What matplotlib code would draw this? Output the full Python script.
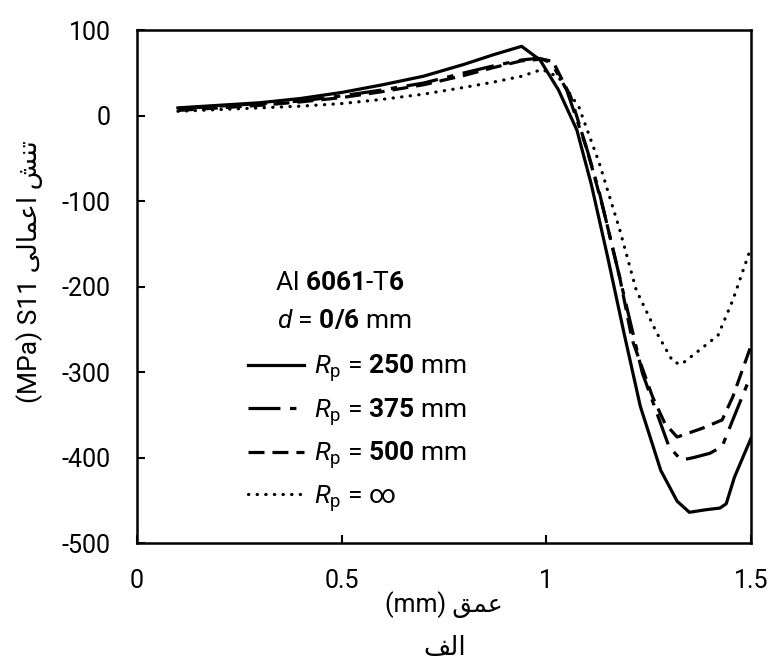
import matplotlib
matplotlib.use("Agg")
import matplotlib.pyplot as plt

# depth (mm) / stress S11 (MPa)
x_250 = [0.10, 0.20, 0.30, 0.40, 0.50, 0.60, 0.70, 0.80, 0.87, 0.94, 0.985, 1.03, 1.075,
         1.11, 1.15, 1.19, 1.23, 1.28, 1.32, 1.35, 1.39, 1.425, 1.44, 1.46, 1.50]
y_250 = [9, 12, 15, 20, 27, 36, 46, 60, 71, 81, 65, 30, -17,
         -80, -165, -254, -340, -415, -451, -464, -461, -459, -454, -423, -378]

x_375 = [0.10, 0.20, 0.30, 0.40, 0.50, 0.60, 0.70, 0.80, 0.87, 0.94, 0.98, 1.01, 1.05,
         1.10, 1.13, 1.18, 1.235, 1.30, 1.33, 1.36, 1.40, 1.43, 1.456, 1.50]
y_375 = [8, 11, 14, 17, 23, 30, 38, 50, 58, 65, 67, 64, 30,
         -40, -90, -190, -301, -387, -403, -400, -395, -387, -356, -304]

x_500 = [0.10, 0.20, 0.30, 0.40, 0.50, 0.60, 0.70, 0.80, 0.87, 0.94, 0.99, 1.02, 1.06,
         1.10, 1.14, 1.18, 1.21, 1.26, 1.29, 1.32, 1.38, 1.43, 1.456, 1.50]
y_500 = [6, 9, 12, 16, 21, 28, 36, 47, 56, 64, 66, 60, 22,
         -40, -110, -190, -262, -329, -360, -376, -366, -356, -329, -270]

x_inf = [0.10, 0.20, 0.30, 0.40, 0.50, 0.60, 0.70, 0.80, 0.87, 0.94, 0.99, 1.03, 1.08,
         1.13, 1.18, 1.22, 1.27, 1.31, 1.33, 1.37, 1.42, 1.456, 1.50]
y_inf = [5, 7, 9, 11, 14, 19, 25, 33, 39, 46, 54, 45, 10,
         -56, -134, -204, -254, -288, -291, -276, -257, -216, -155]

labels = [r"$R_\mathrm{p}$ = $\mathbf{250}$ mm",
          r"$R_\mathrm{p}$ = $\mathbf{375}$ mm",
          r"$R_\mathrm{p}$ = $\mathbf{500}$ mm",
          r"$R_\mathrm{p}$ = $\infty$"]

# Persian text, pre-shaped (presentation forms, visual order) since matplotlib
# does no bidi/joining of its own
ylabel = "(MPa) S11 \ufef0\ufedf\ufe8e\ufee4\ufecb\ufe8d \ufeb6\ufee8\ufe97"
xlabel = "(mm) \ufed6\ufee4\ufecb"
panel = "\ufed2\ufedf\ufe8d"

plt.rcParams["font.family"] = ["Roboto", "DejaVu Sans"]
plt.rcParams["mathtext.fontset"] = "custom"
plt.rcParams["mathtext.rm"] = "Roboto"
plt.rcParams["mathtext.it"] = "Roboto:italic"
plt.rcParams["mathtext.bf"] = "Roboto:bold"
plt.rcParams["axes.unicode_minus"] = False

fig = plt.figure(figsize=(7.74, 6.68), dpi=100)
ax = fig.add_axes([0.177, 0.187, 0.793, 0.768])

lw = 2.3
ax.plot(x_250, y_250, color="black", lw=lw, linestyle="-", label=labels[0])
ax.plot(x_375, y_375, color="black", lw=lw, linestyle=(0, (10, 3, 2, 3)), label=labels[1])
ax.plot(x_500, y_500, color="black", lw=lw, linestyle=(0, (5, 2.5)), label=labels[2])
ax.plot(x_inf, y_inf, color="black", lw=lw, linestyle=(0, (0.1, 2.6)),
        dash_capstyle="round", label=labels[3])

ax.set_xlim(0, 1.5)
ax.set_ylim(-500, 100)
ax.set_xticks([0, 0.5, 1, 1.5])
ax.set_xticklabels(["0", "0.5", "1", "1.5"])
ax.set_yticks(range(-500, 101, 100))
ax.tick_params(direction="in", length=6, width=1.5, labelsize=18, pad=19)
for s in ax.spines.values():
    s.set_linewidth(1.8)

ax.set_xlabel(xlabel, fontsize=18, labelpad=-2)
fig.text(30 / 774, 1 - 272 / 668, ylabel, rotation=90, fontsize=19,
         ha="center", va="center")
fig.text(0.574, 1 - 648 / 668, panel, fontsize=19, ha="center", va="center")

ax.text(0.225, 0.507, r"Al $\mathbf{6061}$-T$\mathbf{6}$", transform=ax.transAxes,
        fontsize=19, va="center")
ax.text(0.228, 0.433, r"$d$ = $\mathbf{0/6}$ mm", transform=ax.transAxes,
        fontsize=19, va="center")
ax.legend(loc="upper left", bbox_to_anchor=(0.181, 0.372), frameon=False, fontsize=19,
          handlelength=2.1, handletextpad=0.4, labelspacing=0.45,
          borderpad=0, borderaxespad=0)

fig.savefig("out.png", dpi=100)
